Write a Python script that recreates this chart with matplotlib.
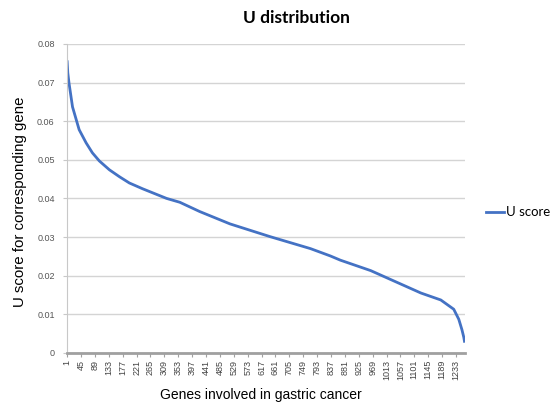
import matplotlib
matplotlib.use('Agg')
import matplotlib.pyplot as plt

# Valores (posicion del gen, puntuacion U)
genes = [1, 3, 7, 18, 39, 61, 81, 103, 135, 167, 198, 240, 316, 358, 421,
         517, 644, 772, 835, 867, 963, 1026, 1122, 1185, 1226, 1242, 1252,
         1258, 1260]
u_score = [0.0754, 0.0725, 0.0698, 0.0637, 0.0578, 0.0544, 0.0518, 0.0497,
           0.0474, 0.0456, 0.0440, 0.0425, 0.0400, 0.0390, 0.0366, 0.0334,
           0.0301, 0.0270, 0.0251, 0.0240, 0.0213, 0.0190, 0.0155, 0.0137,
           0.0113, 0.0087, 0.0060, 0.0040, 0.0030]

tick_genes = [1, 45, 89, 133, 177, 221, 265, 309, 353, 397, 441, 485, 529,
              573, 617, 661, 705, 749, 793, 837, 881, 925, 969, 1013, 1057,
              1101, 1145, 1189, 1233]
y_ticks = [0, 0.01, 0.02, 0.03, 0.04, 0.05, 0.06, 0.07, 0.08]
y_labels = ['0', '0.01', '0.02', '0.03', '0.04', '0.05', '0.06', '0.07', '0.08']

fig = plt.figure(figsize=(5.55, 4.07), dpi=100)
ax = fig.add_axes([0.121, 0.133, 0.717, 0.759])

ax.plot(genes, u_score, color='#4472C4', linewidth=2, label='U score')

ax.set_xlim(1, 1262)
ax.set_ylim(0, 0.08)
ax.set_yticks(y_ticks)
ax.set_yticklabels(y_labels, fontsize=6.5, color='#555555', family='Liberation Sans')
ax.set_xticks(tick_genes)
ax.set_xticklabels([str(t) for t in tick_genes], rotation=90, fontsize=6.5,
                   color='#444444', family='Liberation Sans')
ax.tick_params(axis='x', length=3, color='#A0A0A0', pad=2)
ax.tick_params(axis='y', length=3, color='#C8C8C8', pad=6)

ax.grid(axis='y', color='#D4D4D4', linewidth=1)
ax.set_axisbelow(True)
for s in ['top', 'right']:
    ax.spines[s].set_visible(False)
ax.spines['left'].set_color('#C8C8C8')
ax.spines['bottom'].set_color('#A0A0A0')
ax.spines['bottom'].set_linewidth(2)

fig.text(0.036, 0.504, 'U score for corresponding gene', rotation=90,
         ha='center', va='center', fontsize=10.8, family='Liberation Sans')
fig.text(0.470, 0.029, 'Genes involved in gastric cancer',
         ha='center', va='center', fontsize=10, family='Liberation Sans')

fig.text(0.535, 0.955, 'U distribution', ha='center', va='center',
         fontsize=12.5, fontweight='bold', family='Lato')

ax.legend(loc='center left', bbox_to_anchor=(0.855, 0.478),
          bbox_transform=fig.transFigure, frameon=False, handlelength=1.3,
          handletextpad=0.2, prop={'family': 'Lato', 'size': 9.5})

fig.savefig('out.png', dpi=100)
